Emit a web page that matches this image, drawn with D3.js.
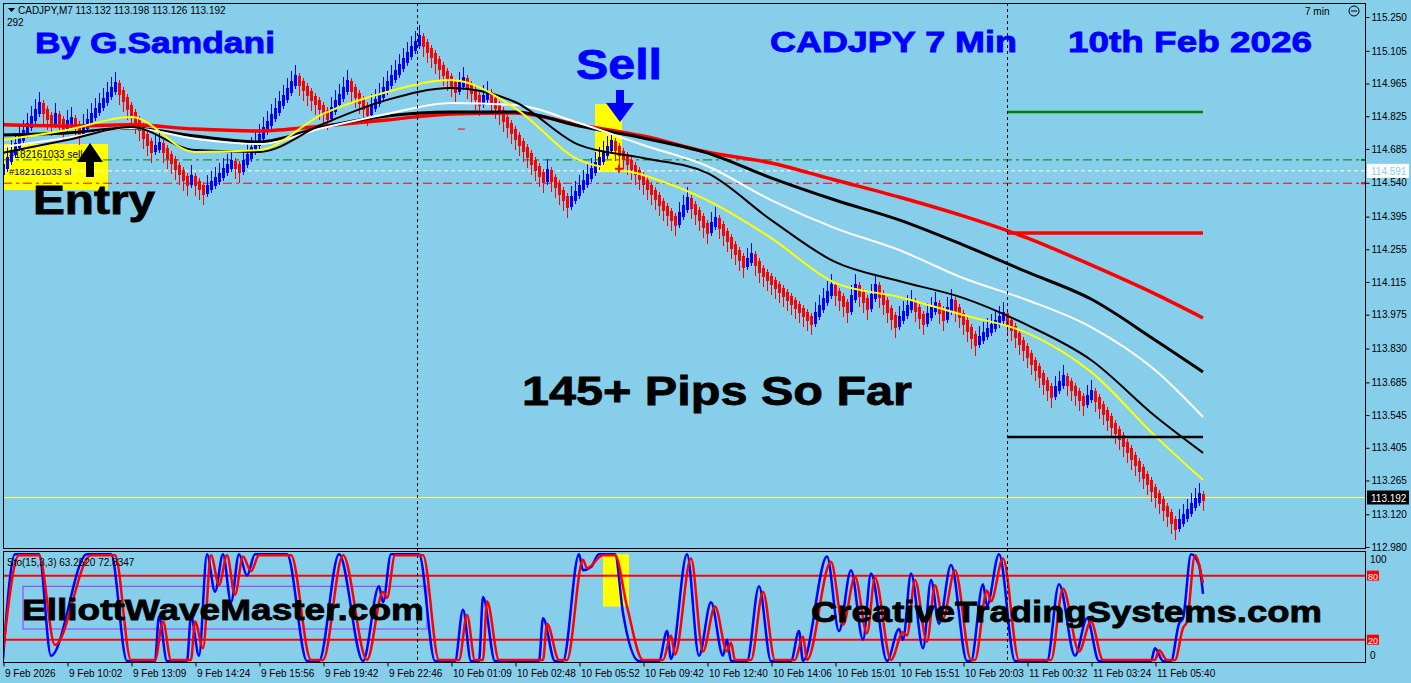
<!DOCTYPE html>
<html>
<head>
<meta charset="utf-8">
<script src="https://cdn.jsdelivr.net/npm/d3@7"></script>
<style>
  body { margin: 0; background: #87ceeb; }
  #graf { width: 1411px; height: 683px; }
  text { font-family: 'Liberation Sans', Arial, sans-serif; }
  .eje text { font-size: 10px; fill: #000; }
  .eje line { stroke: #000; }
  .marca { font-weight: bold; }
</style>
</head>
<body>
<div id="graf"></div>
<script>
// I.
cabecera = 'CADJPY,M7  113.132 113.198 113.126 113.192'

// cierres en puntos sobre la base (1 punto = 0.001)
base = 113.000
apertura0 = 1580
cierres = [
  1608,1637,1667,1696,1726,1755,1784,1814,1843,1873,
  1847,1822,1796,1826,1803,1779,1794,1809,1783,1757,
  1779,1802,1824,1847,1869,1892,1914,1937,1959,
  1928,1897,1866,1835,1804,1773,1742,1711,1680,
  1691,1702,
  1679,1655,1632,1609,1586,1562,1539,
  1560,1540,1520,1500,
  1518,1536,1554,1571,1589,1607,1625,
  1610,1595,
  1623,1651,1679,1708,1736,1764,1792,1820,1848,1876,1905,1933,1961,1989,
  1968,1947,1926,1905,1885,1864,1843,1822,
  1851,1880,1909,1938,1967,
  1941,1916,1890,1865,1839,
  1864,1888,1913,1938,1963,1987,2012,2037,2061,2086,2111,2135,2160,
  2135,2110,2086,2061,2036,2011,1987,1962,1937,
  1958,1980,
  1956,1931,1907,1882,
  1901,1920,
  1894,1867,1841,1815,1789,1762,1736,1710,1683,1657,1631,1605,1578,1552,
  1586,
  1558,1530,1501,1473,1445,
  1469,1493,1517,1541,1565,1590,1614,1638,1662,1686,1710,
  1690,1669,1649,1628,1608,
  1586,1564,1543,1521,1499,1477,1455,1434,1412,1390,1368,
  1401,1433,1466,
  1440,1414,1387,1361,1335,
  1358,1381,
  1353,1326,1298,1271,1243,1216,1188,
  1207,1226,
  1196,1166,
  1149,1132,1115,1098,1081,1063,1046,1029,1012,995,978,961,944,
  974,1004,1034,1064,1094,
  1069,1045,1020,995,
  1045,1094,
  1065,1037,1008,
  1051,1094,
  1061,1029,996,964,931,
  955,978,1002,1025,
  998,971,944,
  968,993,1017,
  989,961,
  996,1030,
  1001,972,942,913,884,854,
  871,888,905,923,940,957,974,
  945,917,888,860,831,803,774,745,717,688,660,631,
  655,680,704,
  683,661,640,618,597,
  619,640,
  613,585,558,531,503,476,449,421,394,367,339,312,285,257,230,203,175,148,121,93,66,
  88,110,132,154,176,198,192
]

preciosEje = [115.250, 115.105, 114.965, 114.825, 114.685, 114.540, 114.395, 114.255,
              114.115, 113.975, 113.830, 113.685, 113.545, 113.405, 113.265, 113.120, 112.980]

etiquetasTiempo = ['9 Feb 2026', '9 Feb 10:02', '9 Feb 13:09', '9 Feb 14:24', '9 Feb 15:56',
                   '9 Feb 19:42', '9 Feb 22:46', '10 Feb 01:09', '10 Feb 02:48', '10 Feb 05:52',
                   '10 Feb 09:42', '10 Feb 12:40', '10 Feb 14:06', '10 Feb 15:01', '10 Feb 15:51',
                   '10 Feb 20:03', '11 Feb 00:32', '11 Feb 03:24', '11 Feb 05:40']
barrasTiempo = [0, 16, 32, 48, 64, 80, 96, 112, 128, 144, 160, 176, 192, 208, 224, 240, 256, 272, 288]

// medias móviles, muestreadas en estas barras
mediaBarras = [0, 16, 32, 48, 64, 80, 96, 112, 128, 144, 160, 176, 192, 208, 224, 240, 256, 272, 288, 300]
mediaAmarilla = [114.723, 114.766, 114.822, 114.672, 114.680, 114.835, 114.929, 114.980, 114.860, 114.638,
                 114.573, 114.466, 114.304, 114.111, 114.051, 113.974, 113.897, 113.730, 113.456, 113.267]
mediaNegraFina = [114.668, 114.723, 114.779, 114.680, 114.672, 114.792, 114.895, 114.946, 114.886, 114.702,
                  114.646, 114.582, 114.381, 114.201, 114.119, 114.047, 113.931, 113.781, 113.541, 113.383]
mediaBlanca = [114.693, 114.732, 114.775, 114.728, 114.706, 114.775, 114.835, 114.882, 114.873, 114.796,
               114.702, 114.612, 114.466, 114.346, 114.252, 114.132, 114.038, 113.922, 113.738, 113.537]
mediaNegraGruesa = [114.745, 114.753, 114.775, 114.740, 114.715, 114.779, 114.826, 114.843, 114.843, 114.783,
                    114.732, 114.668, 114.561, 114.466, 114.381, 114.274, 114.158, 114.042, 113.867, 113.730]
mediaRoja = [114.788, 114.783, 114.788, 114.770, 114.762, 114.783, 114.809, 114.835, 114.839, 114.788,
             114.740, 114.672, 114.625, 114.552, 114.479, 114.398, 114.304, 114.188, 114.064, 113.961]

// Estocástico (15,3,3): [barra, valor]
estoK = [[0,2],[3,100],[9,100],[12,5],[21,100],[27,100],[31,0],[38,0],[39,42],[41,0],[46,0],[47,42],[49,5],
  [51,100],[53,65],[55,100],[57,55],[59,100],[61,80],[63,100],[71,100],[76,0],[79,0],[84,100],[90,0],[94,70],
  [95,55],[97,100],[104,100],[108,0],[113,0],[115,48],[117,0],[119,0],[120,60],[123,0],[134,0],[135,40],[138,0],
  [140,0],[144,100],[145,85],[147,88],[149,100],[153,100],[155,45],[159,0],[164,0],[166,28],[167,2],[171,100],
  [174,5],[177,55],[180,5],[181,20],[182,0],[186,0],[189,70],[192,0],[197,0],[199,28],[200,0],[206,98],[209,28],
  [212,85],[215,20],[217,82],[221,0],[224,30],[225,20],[227,82],[230,12],[232,76],[234,35],[237,90],[241,0],
  [242,0],[245,72],[246,52],[249,100],[253,0],[261,0],[264,72],[268,5],[271,40],[274,0],[287,0],[288,12],[290,0],
  [292,0],[294,35],[295,40],[297,100],[299,90],[300,63]]
estoD = [[0,9],[4,99],[9,99],[13,15],[22,99],[28,99],[32,1],[38,1],[40,37],[42,1],[47,1],[48,37],[50,12],
  [52,99],[54,71],[56,99],[58,62],[60,98],[62,84],[64,99],[72,99],[77,1],[80,1],[85,99],[91,1],[95,65],[96,59],
  [98,99],[105,99],[109,1],[114,1],[116,43],[118,1],[120,1],[121,56],[124,1],[135,1],[136,35],[139,1],[141,1],
  [145,95],[146,87],[150,99],[153,99],[156,51],[160,1],[165,1],[167,24],[168,6],[172,96],[175,9],[178,51],
  [181,9],[182,17],[183,1],[187,1],[190,65],[193,1],[198,1],[200,23],[201,1],[207,93],[210,34],[213,79],
  [216,26],[218,78],[222,1],[225,27],[226,24],[228,76],[231,18],[233,71],[235,40],[238,85],[242,1],[243,1],
  [246,66],[247,56],[250,96],[254,1],[262,1],[265,68],[269,9],[272,37],[275,1],[288,1],[289,10],[291,1],
  [293,1],[295,31],[296,37],[298,99],[300,73]]
nivelesEsto = [80, 20]

// Órdenes, objetivos y marcas
separadores = [103.5, 251]
nivelVenta = 114.638
precioOrden = 114.591
nivelStop = 114.538
objetivos = [114.843, 114.325, 113.451]
precioActual = 113.192
cajaEntrada = [0, 26.25, 114.509, 114.706]
cajaVenta = [148, 154.75, 114.586, 114.877]
cajaEsto = [150, 156.5, 51, 100]
flechaEntrada = [21.75, 114.710]
flechaVenta = [154.25, 114.800]
marcaVenta = [154, 114.600]
marcaRoja = [113.75, 115.5, 114.770]

// II. Escalas y lienzo
ancho_total = 1411
alto_total = 683
panel = { izq: 3, der: 1365, arriba: 3, abajo: 548 }
panelEsto = { arriba: 551, abajo: 662 }

x = d3.scaleLinear().domain([0, 340]).range([3, 1363])
y = d3.scaleLinear().domain([112.980, 115.250]).range([547, 17])
yE = d3.scaleLinear().domain([0, 100]).range([661, 554.3])

svg = d3.select('#graf').append('svg')
        .attr('width', ancho_total)
        .attr('height', alto_total)

svg.append('rect').attr('width', ancho_total).attr('height', alto_total).attr('fill', '#87ceeb')

defs = svg.append('defs')
defs.append('clipPath').attr('id', 'clipPrecio')
    .append('rect')
      .attr('x', panel.izq).attr('y', panel.arriba)
      .attr('width', panel.der - panel.izq).attr('height', panel.abajo - panel.arriba)
defs.append('clipPath').attr('id', 'clipEsto')
    .append('rect')
      .attr('x', panel.izq).attr('y', panelEsto.arriba)
      .attr('width', panel.der - panel.izq).attr('height', panelEsto.abajo - panelEsto.arriba)

g = svg.append('g').attr('clip-path', 'url(#clipPrecio)')
gE = svg.append('g').attr('clip-path', 'url(#clipEsto)')

// III. Panel de precio
// cajas amarillas (detrás)
function caja(grupo, c, escY) {
  grupo.append('rect')
       .attr('x', x(c[0]))
       .attr('y', escY(c[3]))
       .attr('width', x(c[1]) - x(c[0]))
       .attr('height', escY(c[2]) - escY(c[3]))
       .attr('fill', '#ffff00')
}
caja(g, cajaEntrada, y)
caja(g, cajaVenta, y)

// separadores de periodo
separadores.forEach(b => {
  svg.append('line')
     .attr('x1', x(b)).attr('x2', x(b))
     .attr('y1', panel.arriba).attr('y2', panelEsto.abajo)
     .attr('stroke', '#000').attr('stroke-dasharray', '3,3')
     .attr('shape-rendering', 'crispEdges')
})

// líneas de la orden
g.append('line').attr('x1', panel.izq).attr('x2', panel.der)
 .attr('y1', y(nivelVenta)).attr('y2', y(nivelVenta))
 .attr('stroke', '#008000').attr('stroke-dasharray', '9,4,3,4')
g.append('line').attr('x1', panel.izq).attr('x2', panel.der)
 .attr('y1', y(precioOrden)).attr('y2', y(precioOrden))
 .attr('stroke', '#ffffff').attr('stroke-dasharray', '4,3')
g.append('line').attr('x1', panel.izq).attr('x2', panel.der)
 .attr('y1', y(nivelStop)).attr('y2', y(nivelStop))
 .attr('stroke', '#ff0000').attr('stroke-dasharray', '9,4,3,4')
g.append('line').attr('x1', panel.izq).attr('x2', panel.der)
 .attr('y1', y(precioActual)).attr('y2', y(precioActual))
 .attr('stroke', '#ffff66').attr('stroke-width', 1)

g.append('text').attr('x', 9).attr('y', y(nivelVenta) - 2)
 .attr('font-size', 10).text('#182161033 sell')
g.append('text').attr('x', 9).attr('y', y(nivelStop) - 8)
 .attr('font-size', 9.5).text('#182161033 sl')

// pequeña marca roja de orden
g.append('line')
 .attr('x1', x(marcaRoja[0])).attr('x2', x(marcaRoja[1]))
 .attr('y1', y(marcaRoja[2])).attr('y2', y(marcaRoja[2]))
 .attr('stroke', '#ff0000').attr('stroke-width', 1)

// barras
barras = cierres.map((p, i) => {
  c = base + p / 1000
  o = base + (i ? cierres[i - 1] : apertura0) / 1000
  return { i: i, o: o, c: c, sube: c >= o }
})

gb = g.append('g').attr('shape-rendering', 'crispEdges')
gb.selectAll('line.mecha')
  .data(barras)
  .join('line')
    .attr('class', 'mecha')
    .attr('x1', d => x(d.i) + 0.5)
    .attr('x2', d => x(d.i) + 0.5)
    .attr('y1', d => y(Math.max(d.o, d.c)) - (d.sube ? 13 : 5))
    .attr('y2', d => y(Math.min(d.o, d.c)) + (d.sube ? 5 : 13))
    .attr('stroke', d => d.sube ? '#0000ff' : '#ff0000')
    .attr('stroke-width', 1)
gb.selectAll('line.cuerpo')
  .data(barras)
  .join('line')
    .attr('class', 'cuerpo')
    .attr('x1', d => x(d.i) + 0.5)
    .attr('x2', d => x(d.i) + 0.5)
    .attr('y1', d => y(d.o) + (d.sube ? 2 : -2))
    .attr('y2', d => y(d.c) + (d.sube ? -3 : 3))
    .attr('stroke', d => d.sube ? '#0000ff' : '#ff0000')
    .attr('stroke-width', 3)

// medias móviles
linea = d3.line()
          .x((d, i) => x(mediaBarras[i]))
          .y(d => y(d))
          .curve(d3.curveMonotoneX)
medias = [
  { datos: mediaRoja, color: '#ff0000', grosor: 3.5 },
  { datos: mediaNegraGruesa, color: '#000000', grosor: 3 },
  { datos: mediaBlanca, color: '#ffffff', grosor: 2 },
  { datos: mediaNegraFina, color: '#000000', grosor: 2 },
  { datos: mediaAmarilla, color: '#ffff00', grosor: 2 }
]
medias.forEach(m => {
  g.append('path')
   .attr('d', linea(m.datos))
   .attr('fill', 'none')
   .attr('stroke', m.color)
   .attr('stroke-width', m.grosor)
})

// objetivos a la derecha
coloresObj = ['#008000', '#ff0000', '#000000']
grosorObj = [2.5, 3.5, 2.5]
objetivos.forEach((p, k) => {
  g.append('line')
   .attr('x1', x(separadores[1])).attr('x2', x(cierres.length - 1))
   .attr('y1', y(p)).attr('y2', y(p))
   .attr('stroke', coloresObj[k]).attr('stroke-width', grosorObj[k])
})

// marca de venta
mv = [x(marcaVenta[0]), y(marcaVenta[1])]
g.append('path')
 .attr('d', `M${mv[0] - 4},${mv[1]}H${mv[0] + 4}M${mv[0]},${mv[1] - 4}V${mv[1] + 4}`)
 .attr('stroke', '#ff0000').attr('stroke-width', 2)

// flechas
fe = [x(flechaEntrada[0]), y(flechaEntrada[1])]
g.append('path')
 .attr('d', `M${fe[0]},${fe[1]} l13,19 h-9 v15 h-8 v-15 h-9 z`)
 .attr('fill', '#000')
fv = [x(flechaVenta[0]), y(flechaVenta[1])]
g.append('path')
 .attr('d', `M${fv[0]},${fv[1]} l14,-19 h-10 v-13 h-8 v13 h-10 z`)
 .attr('fill', '#0000ff')

// textos
function rotulo(t, px, py, tam, largo, color) {
  svg.append('text')
     .attr('class', 'marca')
     .attr('x', px).attr('y', py)
     .attr('font-size', tam)
     .attr('textLength', largo)
     .attr('lengthAdjust', 'spacingAndGlyphs')
     .attr('fill', color)
     .attr('stroke', color).attr('stroke-width', 0.8)
     .text(t)
}
rotulo('By G.Samdani', 35, 53, 29, 240, '#0000ff')
rotulo('CADJPY 7 Min', 770, 52, 29, 247, '#0000ff')
rotulo('10th Feb 2026', 1068, 52, 29, 244, '#0000ff')
rotulo('Sell', 576, 79, 42, 86, '#0000ff')
rotulo('Entry', 33, 214, 40, 122, '#000000')
rotulo('145+ Pips So Far', 522, 405, 41, 390, '#000000')

svg.append('path').attr('d', 'M8,8 h7 l-3.5,4 z').attr('fill', '#000')
svg.append('text').attr('x', 18).attr('y', 14).attr('font-size', 10).text(cabecera)
svg.append('text').attr('x', 7).attr('y', 26).attr('font-size', 10).text('292')
svg.append('text').attr('x', 1305).attr('y', 15).attr('font-size', 10).text('7 min')
svg.append('circle').attr('cx', 1354).attr('cy', 11).attr('r', 5)
   .attr('fill', 'none').attr('stroke', '#000')
svg.append('line').attr('x1', 1351).attr('x2', 1357).attr('y1', 11).attr('y2', 11).attr('stroke', '#000')

// IV. Panel estocástico
caja(gE, cajaEsto, yE)

gE.append('rect')
  .attr('x', x(5)).attr('y', yE(70))
  .attr('width', x(106) - x(5)).attr('height', yE(30) - yE(70))
  .attr('fill', 'none').attr('stroke', '#9933ff')

nivelesEsto.forEach(n => {
  gE.append('line')
    .attr('x1', panel.izq).attr('x2', panel.der)
    .attr('y1', yE(n)).attr('y2', yE(n))
    .attr('stroke', '#ff0000').attr('stroke-width', 2)
})

lineaE = d3.line().x(d => x(d[0])).y(d => yE(d[1])).curve(d3.curveMonotoneX)
gE.append('path').attr('d', lineaE(estoK))
  .attr('fill', 'none').attr('stroke', '#0000ff').attr('stroke-width', 2.5)
gE.append('path').attr('d', lineaE(estoD))
  .attr('fill', 'none').attr('stroke', '#ff0000').attr('stroke-width', 2.5)

svg.append('text').attr('x', 7).attr('y', 566).attr('font-size', 10)
   .text('Sto(15,3,3) 63.2520 72.8347')

rotulo('ElliottWaveMaster.com', 22, 620, 30, 402, '#000000')
rotulo('CreativeTradingSystems.com', 811, 622, 30, 511, '#000000')

// V. Marcos y ejes
svg.append('rect')
   .attr('x', panel.izq + 0.5).attr('y', panel.arriba + 0.5)
   .attr('width', panel.der - panel.izq).attr('height', panel.abajo - panel.arriba)
   .attr('fill', 'none').attr('stroke', '#000')
svg.append('rect')
   .attr('x', panel.izq + 0.5).attr('y', panelEsto.arriba + 0.5)
   .attr('width', panel.der - panel.izq).attr('height', panelEsto.abajo - panelEsto.arriba)
   .attr('fill', 'none').attr('stroke', '#000')

ejePrecio = d3.axisRight(y)
              .tickValues(preciosEje)
              .tickFormat(d3.format('.3f'))
              .tickSize(4)
              .tickPadding(2)
svg.append('g').attr('class', 'eje')
   .attr('transform', `translate(${panel.der + 0.5}, 0)`)
   .call(ejePrecio)
   .call(s => s.select('.domain').remove())

ejeTiempo = d3.axisBottom(x)
              .tickValues(barrasTiempo)
              .tickFormat((d, i) => etiquetasTiempo[i])
              .tickSize(4)
              .tickPadding(3)
svg.append('g').attr('class', 'eje')
   .attr('transform', `translate(0.5, ${panelEsto.abajo + 0.5})`)
   .call(ejeTiempo)
   .call(s => s.select('.domain').remove())
   .selectAll('text')
     .attr('text-anchor', 'start')
     .attr('x', 1)

// etiquetas de precio en el eje
function etiquetaPrecio(p, fondoC, textoC) {
  svg.append('rect').attr('x', panel.der + 2).attr('y', y(p) - 7)
     .attr('width', 42).attr('height', 14).attr('fill', fondoC)
  svg.append('text').attr('x', panel.der + 6).attr('y', y(p) + 4)
     .attr('font-size', 10).attr('fill', textoC).text(d3.format('.3f')(p))
}
etiquetaPrecio(precioOrden, '#ffffff', '#87ceeb')
etiquetaPrecio(precioActual, '#000000', '#ffffff')

svg.append('line').attr('x1', panel.der - 4).attr('x2', panel.der).attr('y1', y(nivelVenta)).attr('y2', y(nivelVenta))
   .attr('stroke', '#008000').attr('stroke-width', 2)
svg.append('line').attr('x1', panel.der - 4).attr('x2', panel.der).attr('y1', y(nivelStop)).attr('y2', y(nivelStop))
   .attr('stroke', '#ff0000').attr('stroke-width', 2)

// eje del estocástico
svg.append('text').attr('x', panel.der + 5).attr('y', yE(100) + 9).attr('font-size', 10).text('100')
svg.append('text').attr('x', panel.der + 5).attr('y', yE(0) - 2).attr('font-size', 10).text('0')
nivelesEsto.forEach(n => {
  svg.append('rect').attr('x', panel.der + 2).attr('y', yE(n) - 5)
     .attr('width', 12).attr('height', 10).attr('fill', '#ff0000')
  svg.append('text').attr('x', panel.der + 3).attr('y', yE(n) + 4)
     .attr('font-size', 9).attr('fill', '#ffffff').text(n)
})
</script>
</body>
</html>
